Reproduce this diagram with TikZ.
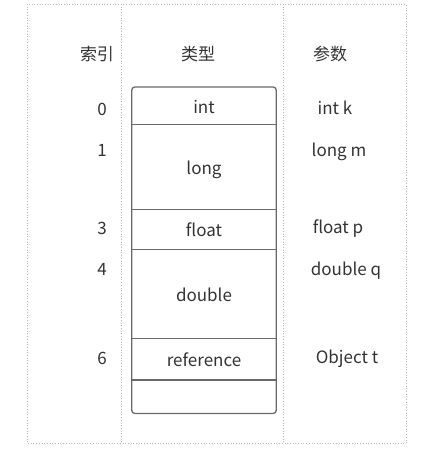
\documentclass[tikz,border=0pt]{standalone}
\usepackage{fontspec}
\setmainfont{Noto Sans CJK SC}
\usetikzlibrary{positioning}
\definecolor{ink}{HTML}{333333}
\definecolor{edge}{HTML}{6A6A6A}

\begin{document}
\begin{tikzpicture}[x=1pt,y=-1pt,node distance=0pt,
  font=\fontsize{17}{19}\selectfont,text=ink,
  slot/.style={minimum width=144pt,minimum height=#1,inner sep=0pt,
    text height=2.7ex,text depth=0pt},
  lbl/.style={inner sep=0pt,text height=1ex,text depth=0pt},
  grid/.style={draw=gray!55,dotted,line width=0.7pt}]
 % \draw[help lines] (0,0) grid (430,451);
  \useasboundingbox (0,0) rectangle (430,451);
  \draw[grid] (27,4) rectangle (406,443);
  \draw[grid] (121,4) -- (121,443);
  \draw[grid] (283,4) -- (283,443);

  \node (h0) at (97,54)  {索引};
  \node (h1) at (198,54) {类型};
  \node (h2) at (330,54) {参数};

  \node[slot=37pt,anchor=north] (t0) at (204,87) {int};
  \node[slot=85pt] (t1) [below=of t0] {long};
  \node[slot=39pt] (t3) [below=of t1] {float};
  \node[slot=89pt] (t4) [below=of t3] {double};
  \node[slot=41pt] (t6) [below=of t4] {reference};
  \node[slot=33pt] (t7) [below=of t6] {};
  \draw[edge,line width=1.3pt,rounded corners=3pt]
    (t0.north west) rectangle (t7.south east);
  \foreach \s in {t0,t1,t3,t4,t6}
    \draw[edge,line width=1.3pt] (\s.south west) -- (\s.south east);

  \node[lbl] (n0) at (102,113) {0};
  \node[lbl] (n1) at (102,154) {1};
  \node[lbl] (n3) at (102,232) {3};
  \node[lbl] (n4) at (102,273) {4};
  \node[lbl] (n6) at (102,362) {6};

  \node[lbl] (p0) at (335,112) {int k};
  \node[lbl] (p1) at (339,154) {long m};
  \node[lbl] (p3) at (338,231) {float p};
  \node[lbl] (p4) at (346,273) {double q};
  \node[lbl] (p6) at (347,361) {Object t};
 \end{tikzpicture}
\end{document}
